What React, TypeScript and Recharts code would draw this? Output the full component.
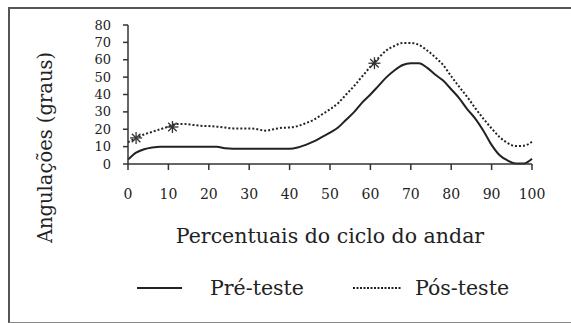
import { ComposedChart, Line, Scatter, XAxis, YAxis, Label, Legend } from "recharts";

const percents = [
  0, 2, 4, 6, 8, 10, 12, 14, 16, 18, 20, 22, 24, 26, 28, 30, 32, 34, 36, 38, 40, 42, 44, 46, 48, 50,
  52, 54, 56, 58, 60, 62, 64, 66, 68, 70, 72, 74, 76, 78, 80, 82, 84, 86, 88, 90, 92, 94, 96, 98, 100,
];

const preTeste = [
  2.5, 6.5, 8.5, 9.5, 10, 10, 10, 10, 10, 10, 10, 10, 9, 8.8, 8.8, 8.8, 8.8, 8.8, 8.8, 8.8, 8.8, 9.5,
  11, 13, 15.5, 18, 21, 25.5, 30, 35.5, 40, 45, 50, 54, 57, 58, 58, 55.5, 51.5, 48, 43, 37.8, 31.5,
  26, 19, 11, 5, 2, 0.3, 0.3, 3,
];

const posTeste = [
  12.5, 15, 17, 18.5, 20, 21.5, 23, 23, 22.5, 22, 21.8, 21.5, 21, 20.5, 20.5, 20.5, 20, 19.2, 20,
  20.8, 21, 21.8, 23.5, 25.5, 28.5, 31.5, 35, 40, 45, 50.5, 56, 61, 65.5, 68, 69.7, 69.7, 68.5, 65.5,
  61.5, 57, 50.5, 44.4, 38.5, 32, 26, 20.5, 15.5, 12, 10.3, 10.5, 12.8,
];

// asteriscos de diferença significativa
const starPercents = [2, 11, 61];
const starValues = [15, 21.3, 58];

const xTicks = [0, 10, 20, 30, 40, 50, 60, 70, 80, 90, 100];
const yTicks = [0, 10, 20, 30, 40, 50, 60, 70, 80];

const data = percents.map((p, i) => ({ pct: p, pre: preTeste[i], pos: posTeste[i] }));
const stars = starPercents.map((p, i) => ({ pct: p, mark: starValues[i] }));

const font = "DejaVu Serif";
const ink = "#222";

const Asterisk = (props: any) => {
  const { cx, cy } = props;
  const r = 6;
  const d = r * 0.707;
  return (
    <g stroke="#333" strokeWidth={1.3}>
      <line x1={cx} y1={cy - r} x2={cx} y2={cy + r} />
      <line x1={cx - r} y1={cy} x2={cx + r} y2={cy} />
      <line x1={cx - d} y1={cy - d} x2={cx + d} y2={cy + d} />
      <line x1={cx - d} y1={cy + d} x2={cx + d} y2={cy - d} />
    </g>
  );
};

const LegendContent = () => (
  <svg width={571} height={50} style={{ display: "block" }}>
    <line x1={137} y1={15} x2={182} y2={15} stroke={ink} strokeWidth={2} />
    <text x={210} y={22} fontFamily={font} fontSize={20.5} fill={ink}>
      Pré-teste
    </text>
    <line x1={353} y1={15} x2={402} y2={15} stroke={ink} strokeWidth={2} strokeDasharray="2 1.5" />
    <text x={415} y={22} fontFamily={font} fontSize={20.5} fill={ink}>
      Pós-teste
    </text>
  </svg>
);

export default function App() {
  return (
    <div style={{ position: "absolute", left: 0, top: 0, width: 571, height: 323, background: "#fff", overflow: "hidden" }}>
      <div
        style={{
          position: "absolute",
          left: 8,
          top: 7,
          width: 600,
          height: 313,
          borderLeft: "2px solid #555",
          borderTop: "2px solid #555",
          borderBottom: "1px solid #888",
        }}
      />
      <div style={{ position: "absolute", left: 0, top: 0 }}>
        <ComposedChart width={571} height={323} data={data} margin={{ top: 25, right: 39, bottom: 0, left: 88 }}>
          <XAxis
            dataKey="pct"
            type="number"
            domain={[0, 100]}
            ticks={xTicks}
            interval={0}
            height={109}
            tickSize={6}
            tickMargin={19}
            stroke="#333"
            strokeWidth={1.5}
            tick={{ fontFamily: font, fontSize: 14, fill: ink }}
          >
            <Label
              value="Percentuais do ciclo do andar"
              position="insideTop"
              offset={64}
              style={{ fontFamily: font, fontSize: 20.5, fill: ink }}
            />
          </XAxis>
          <YAxis
            type="number"
            domain={[0, 80]}
            ticks={yTicks}
            interval={0}
            width={40}
            tickSize={5}
            tickMargin={12}
            stroke="#333"
            strokeWidth={1.5}
            tick={{ fontFamily: font, fontSize: 13, fill: ink }}
          >
            <Label
              value="Angulações (graus)"
              angle={-90}
              position="center"
              dx={-63}
              dy={53}
              style={{ fontFamily: font, fontSize: 19.5, fill: ink, textAnchor: "middle" }}
            />
          </YAxis>
          <Legend
            verticalAlign="bottom"
            wrapperStyle={{ left: 0, width: 571 }}
            content={<LegendContent />}
          />
          <Line
            type="monotone"
            dataKey="pre"
            stroke={ink}
            strokeWidth={2}
            dot={false}
            isAnimationActive={false}
          />
          <Line
            type="monotone"
            dataKey="pos"
            stroke={ink}
            strokeWidth={2}
            strokeDasharray="2 2"
            dot={false}
            isAnimationActive={false}
          />
          <Scatter data={stars} dataKey="mark" shape={<Asterisk />} isAnimationActive={false} />
        </ComposedChart>
      </div>
    </div>
  );
}
